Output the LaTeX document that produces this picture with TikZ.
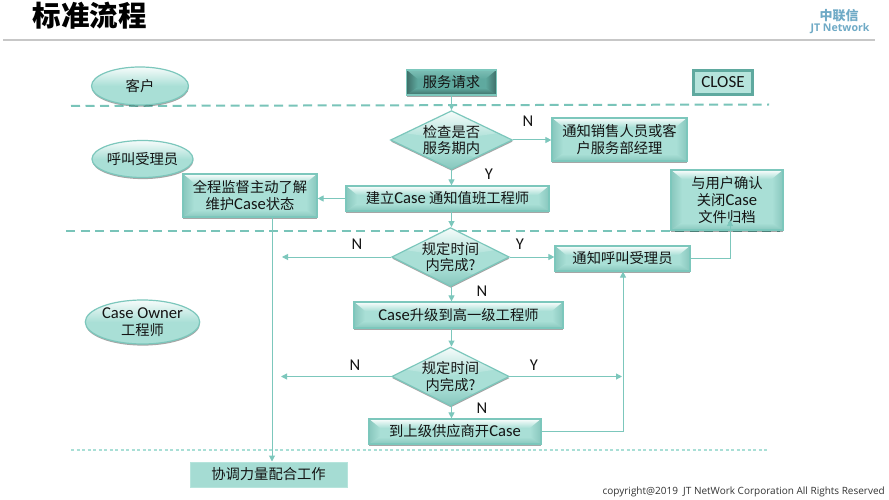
\documentclass[tikz,border=0pt]{standalone}
\usepackage{fontspec}
\setmainfont{Carlito}
\newfontfamily\cjk{Noto Sans CJK SC}
\newfontfamily\openf{Open Sans}
\newcommand\en[1]{{\rmfamily\fontsize{16.6}{16.6}\selectfont #1}}
\usetikzlibrary{arrows.meta,shapes.geometric,shadows,calc}
\definecolor{edgec}{HTML}{7CC7BC}
\definecolor{basec}{HTML}{A9DFD6}
\definecolor{darkc}{HTML}{5FA99F}
\definecolor{txt}{HTML}{141414}
\newcommand\bevelfill[3]{% base, highlight, shade
  \fill[#1] (path picture bounding box.south west) rectangle (path picture bounding box.north east);
  \shade[top color=#2,bottom color=#1]
    (path picture bounding box.north west) -- (path picture bounding box.north east)
    -- ([shift={(-10pt,-9pt)}]path picture bounding box.north east)
    -- ([shift={(10pt,-9pt)}]path picture bounding box.north west) -- cycle;
  \shade[left color=#3,right color=#1]
    (path picture bounding box.north west)
    -- ([shift={(11pt,-9pt)}]path picture bounding box.north west)
    -- ([shift={(11pt,7pt)}]path picture bounding box.south west)
    -- (path picture bounding box.south west) -- cycle;
  \shade[right color=#3,left color=#1]
    (path picture bounding box.north east)
    -- ([shift={(-11pt,-9pt)}]path picture bounding box.north east)
    -- ([shift={(-11pt,7pt)}]path picture bounding box.south east)
    -- (path picture bounding box.south east) -- cycle;
  \shade[bottom color=#3,top color=#1]
    (path picture bounding box.south west) -- (path picture bounding box.south east)
    -- ([shift={(-10pt,7pt)}]path picture bounding box.south east)
    -- ([shift={(10pt,7pt)}]path picture bounding box.south west) -- cycle;
}
\tikzset{
  softshadow/.style={drop shadow={shadow xshift=0.3pt,shadow yshift=-1.6pt,opacity=.35,fill=black}},
  labeltext/.style={font=\cjk\fontsize{14.3}{16.8}\selectfont,text=txt,align=center,inner sep=0pt},
  bevelbox/.style={rectangle,draw=edgec,line width=1.2pt,softshadow,labeltext,
    path picture={\bevelfill{basec}{white!95!basec}{basec!55!darkc}}},
  darkbox/.style={rectangle,draw=edgec,line width=1.2pt,softshadow,labeltext,
    path picture={\bevelfill{darkc}{darkc!60!basec}{darkc!65!black}}},
  flatbox/.style={rectangle,draw=basec!85!white,line width=1pt,fill=basec!95!darkc,labeltext},
  closebox/.style={rectangle,draw=darkc,line width=2.2pt,fill=basec!85!white,labeltext,font=\fontsize{17}{18}\selectfont},
  roleoval/.style={ellipse,draw=edgec,line width=1.2pt,softshadow,labeltext,
    top color=white!90!basec,bottom color=basec,middle color=basec},
  decision/.style={diamond,draw=edgec,line width=1.2pt,softshadow,labeltext,aspect=2,
    path picture={
      \fill[basec] (path picture bounding box.south west) rectangle (path picture bounding box.north east);
      \shade[top color=white!90!basec,bottom color=basec]
        (path picture bounding box.north west) -- (path picture bounding box.north east)
        -- ([yshift=9pt]path picture bounding box.east) -- (path picture bounding box.center)
        -- ([yshift=9pt]path picture bounding box.west) -- cycle;
      \shade[bottom color=basec!55!darkc,top color=basec]
        (path picture bounding box.south west) -- (path picture bounding box.south east)
        -- ([yshift=-10pt]path picture bounding box.center) -- cycle;
    }},
  flow/.style={draw=edgec,line width=1pt,-{Triangle[length=6pt,width=6pt]}},
  zone/.style={draw=edgec!90!darkc,line width=2pt,dash pattern=on 9pt off 5.5pt},
  zonethin/.style={draw=basec,line width=1.2pt,dash pattern=on 3pt off 2.5pt},
  yn/.style={font=\fontsize{16.5}{18}\selectfont,text=txt,inner sep=0pt},
}
\begin{document}
\begin{tikzpicture}[x=1pt,y=-1pt]
\useasboundingbox (0,0) rectangle (889,500);
\fill[white] (0,0) rectangle (889,500);

% header
\node (title) [anchor=center,inner sep=0pt,text=black,font=\cjk\bfseries\fontsize{28.5}{30}\selectfont] at (89.5,16) {标准流程};
\coordinate (ruleL) at (3,40); \coordinate (ruleR) at (875,40);
\draw[draw=black!22,line width=1.4pt] (ruleL) -- (ruleR);
\node (logoa) [inner sep=0pt,font=\cjk\bfseries\fontsize{13}{14}\selectfont] at (839,16) {\textcolor[HTML]{6FAAC6}{中联信}};
\node (logob) [inner sep=0pt,font=\openf\bfseries\fontsize{10.6}{11}\selectfont] at (840,29) {\textcolor[HTML]{6FAAC6}{JT Network}};
\node (copy) [inner sep=0pt,anchor=east,text=black!80,font=\openf\fontsize{10}{12}\selectfont] at (885,491.5) {copyright@2019\ \ JT NetWork Corporation All Rights Reserved};

% swimlane separators
\coordinate (z1a) at (71,106); \coordinate (z1b) at (769,104.5);
\coordinate (z2a) at (66,231); \coordinate (z2b) at (780,231);
\coordinate (z3a) at (71,450); \coordinate (z3b) at (768,450);
\draw[zone] (z1a) -- (z1b);
\draw[zone] (z2a) -- (z2b);
\draw[zonethin] (z3a) -- (z3b);

% roles
\node (kh) [roleoval,minimum width=97pt,minimum height=38pt] at (140,86) {客户};
\node (hj) [roleoval,minimum width=97pt,minimum height=37pt] at (142.5,159) {呼叫受理员};
\node (co) [roleoval,minimum width=112pt,minimum height=44pt] at (142.5,322) {\en{Case Owner}\\工程师};

% boxes
\node (req) [darkbox,minimum width=90pt,minimum height=25pt] at (451.5,82.5) {服务请求};
\node (close) [closebox,minimum width=59pt,minimum height=24pt] at (723,82.5) {CLOSE};
\node (d1) [decision,minimum width=122pt,minimum height=56pt] at (451.5,140) {检查是否\\服务期内};
\node (tz) [bevelbox,minimum width=135pt,minimum height=43pt] at (619.5,139.5) {通知销售人员或客\\户服务部经理};
\node (jl) [bevelbox,minimum width=203pt,minimum height=25pt] at (447.5,198.5) {建立\en{Case} 通知值班工程师};
\node (qc) [bevelbox,minimum width=134pt,minimum height=43pt] at (250,195.5) {全程监督主动了解\\维护\en{Case}状态};
\node (yh) [bevelbox,minimum width=112pt,minimum height=60pt] at (727,200) {与用户确认\\关闭\en{Case}\\文件归档};
\node (d2) [decision,minimum width=113pt,minimum height=55pt] at (450.5,257) {规定时间\\内完成?};
\node (hr) [bevelbox,minimum width=135pt,minimum height=25pt] at (622.5,258.5) {通知呼叫受理员};
\node (up) [bevelbox,minimum width=209pt,minimum height=26pt] at (458.5,315) {\en{Case}升级到高一级工程师};
\node (d3) [decision,minimum width=113pt,minimum height=55pt] at (450.5,376.5) {规定时间\\内完成?};
\node (sp) [bevelbox,minimum width=172pt,minimum height=25pt] at (455,431.5) {到上级供应商开\en{Case}};
\node (xt) [flatbox,minimum width=157pt,minimum height=25pt] at (268.5,474.5) {协调力量配合工作};

% connector anchors
\coordinate (mid) at (451.5,0);
\coordinate (lane) at (272,0);
\coordinate (d2l) at (282,257);
\coordinate (d3l) at (281,376.5);
\coordinate (d3r) at (622,376.5);
\coordinate (yhin) at (730,220);
\coordinate (busx) at (623,0);

% connectors
\draw[flow] (req.south -| mid) -- (d1.north);
\draw[flow] (d1.east) -- (tz.west |- d1.east);
\draw[flow] (d1.south) -- (jl.north -| d1.south);
\draw[flow] (jl.west) -- (qc.east |- jl.west);
\draw[flow] (jl.south -| mid) -- (d2.north -| mid);
\draw[flow] (d2.west) -- (d2l);
\draw[flow] (d2.east) -- (hr.west |- d2.east);
\draw[flow] (hr.east) -| (yhin);
\draw[flow] (d2.south -| mid) -- (up.north -| mid);
\draw[flow] (up.south -| mid) -- (d3.north -| mid);
\draw[flow] (d3.west) -- (d3l);
\draw[flow] (d3.east) -- (d3r);
\draw[flow] (d3.south -| mid) -- (sp.north -| mid);
\draw[flow] (sp.east) -| (hr.south -| busx);
\draw[flow] (qc.south -| lane) -- (xt.north -| lane);

% branch labels
\node (n1) [yn] at (528,121) {N};
\node (y1) [yn] at (489,174) {Y};
\node (n2) [yn] at (357,244) {N};
\node (y2) [yn] at (520,244) {Y};
\node (n3) [yn] at (482,291) {N};
\node (n4) [yn] at (355,365) {N};
\node (y3) [yn] at (534,365) {Y};
\node (n5) [yn] at (482,408) {N};
\end{tikzpicture}
\end{document}
